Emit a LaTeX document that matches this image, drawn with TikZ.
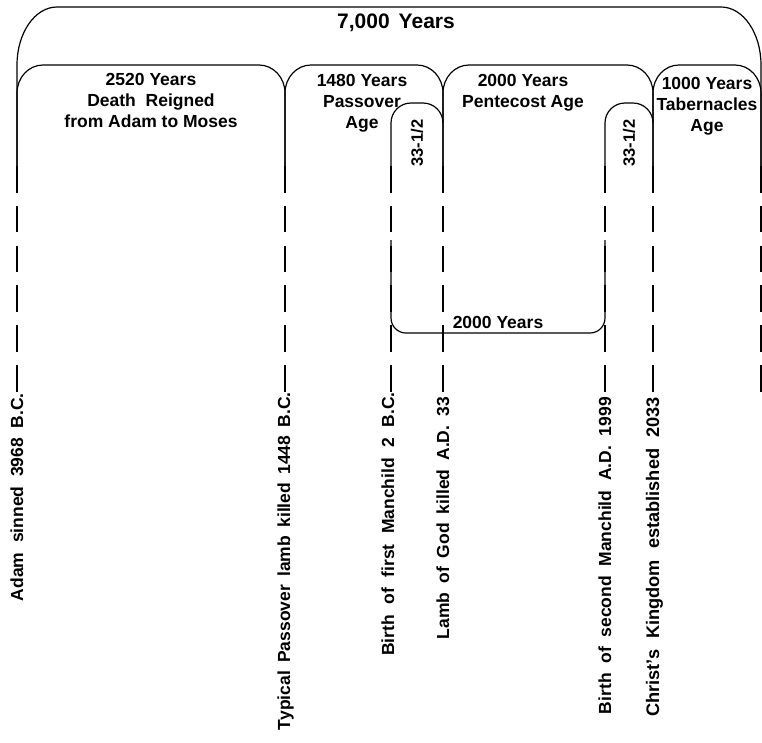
\documentclass[tikz,border=0pt]{standalone}
\usepackage{fontspec}
\setmainfont{Liberation Sans}
\newcommand{\gp}[1]{\hspace{#1pt}}
\begin{document}
\begin{tikzpicture}[x=1pt,y=1pt,
  archline/.style={line width=1.2pt},
  dashline/.style={line width=1.3pt, dash pattern=on 26.5pt off 13.3pt},
  lbl/.style={font=\fontsize{17.5}{21}\selectfont\bfseries, inner sep=0pt, align=center},
  vlbl/.style={font=\fontsize{17.5}{21}\selectfont\bfseries, inner sep=0pt, rotate=90, anchor=base east}]
\useasboundingbox (0,0) rectangle (762,-742);
% outer arch
\draw[archline] (17,-166) -- (17,-65) arc[start angle=180,end angle=90,x radius=40,y radius=58] -- (721,-7) arc[start angle=90,end angle=0,x radius=40,y radius=58] -- (761,-166);
% main arches
\draw[archline] (17,-166) -- (17,-93) arc[start angle=180,end angle=90,x radius=26,y radius=28] -- (259,-65) arc[start angle=90,end angle=0,x radius=26,y radius=28] -- (285,-166);
\draw[archline] (285,-166) -- (285,-93) arc[start angle=180,end angle=90,x radius=26,y radius=28] -- (417,-65) arc[start angle=90,end angle=0,x radius=26,y radius=28] -- (443,-166);
\draw[archline] (443,-166) -- (443,-93) arc[start angle=180,end angle=90,x radius=26,y radius=28] -- (627,-65) arc[start angle=90,end angle=0,x radius=26,y radius=28] -- (653,-166);
\draw[archline] (653,-166) -- (653,-93) arc[start angle=180,end angle=90,x radius=26,y radius=28] -- (735,-65) arc[start angle=90,end angle=0,x radius=26,y radius=28] -- (761,-166);
% small arches
\draw[archline] (391,-166) -- (391,-123) arc[start angle=180,end angle=90,radius=20] -- (423,-103) arc[start angle=90,end angle=0,radius=20] -- (443,-123);
\draw[archline] (605,-166) -- (605,-123) arc[start angle=180,end angle=90,radius=20] -- (633,-103) arc[start angle=90,end angle=0,radius=20] -- (653,-123);
% dashed time lines
\foreach \xx in {17,285,391,443,605,653,761}
  \draw[dashline] (\xx,-166) -- (\xx,-392);
% bottom bracket
\draw[archline, rounded corners=15pt] (391,-240) -- (391,-333) -- (605,-333) -- (605,-240);
% texts
\node[lbl, font=\fontsize{21}{25}\selectfont\bfseries] (total) at (396,-23) {7,000\gp{9}Years};
\node[lbl, anchor=north] (age1) at (151,-73) {2520 Years\\Death\ \ Reigned\\from Adam to Moses};
\node[lbl, anchor=north] (age2) at (362,-74) {1480 Years\\Passover\\Age};
\node[lbl, anchor=north] (age3) at (523,-74) {2000 Years\\Pentecost Age};
\node[lbl, anchor=north] (age4) at (707,-77) {1000 Years\\Tabernacles\\Age};
\node[lbl, rotate=90, font=\fontsize{16.5}{20}\selectfont\bfseries] (half1) at (417,-143) {33-1/2};
\node[lbl, rotate=90, font=\fontsize{16.5}{20}\selectfont\bfseries] (half2) at (629,-143) {33-1/2};
\node[lbl] (span) at (498,-322) {2000 Years};
\node[vlbl] (adam) at (23,-393) {Adam\gp{9.7}sinned\gp{9.7}3968\gp{9.7}B.C.};
\node[vlbl] (pass) at (290,-392) {Typical\gp{8.3}Passover\gp{8.3}lamb\gp{8.3}killed\gp{8.3}1448\gp{8.3}B.C.};
\node[vlbl] (man1) at (394,-392) {Birth\gp{10.5}of\gp{10.5}first\gp{10.5}Manchild\gp{10.5}2\gp{10.5}B.C.};
\node[vlbl] (lamb) at (449,-397) {Lamb\gp{8.9}of\gp{8.9}God\gp{8.9}killed\gp{8.9}A.D.\gp{8.9}33};
\node[vlbl] (man2) at (611,-397) {Birth\gp{9.7}of\gp{9.7}second\gp{9.7}Manchild\gp{9.7}A.D.\gp{9.7}1999};
\node[vlbl, font=\fontsize{18.2}{22}\selectfont\bfseries] (king) at (659,-397) {Christ’s\gp{11}Kingdom\gp{11}established\gp{11}2033};
\end{tikzpicture}
\end{document}
